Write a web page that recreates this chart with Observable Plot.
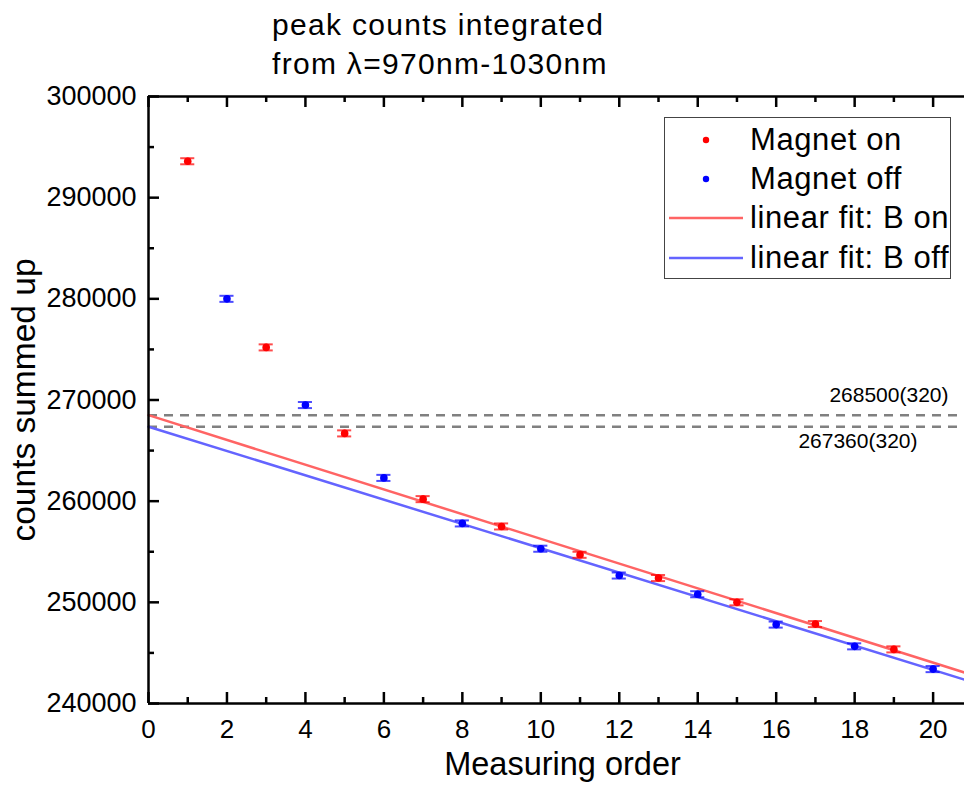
<!DOCTYPE html>
<html><head><meta charset="utf-8">
<script src="https://cdn.jsdelivr.net/npm/d3@7"></script>
<script src="https://cdn.jsdelivr.net/npm/@observablehq/plot@0.6"></script>
<style>
body{margin:0;background:#fff;font-family:"Liberation Sans",Arial,sans-serif;}
#wrap{position:relative;width:964px;height:796px;overflow:hidden;background:#fff}
#chart{position:absolute;left:0;top:0}
#title{position:absolute;left:272px;top:5px;font-size:30px;line-height:39px;letter-spacing:1.3px;color:#000;white-space:nowrap}
#legend{position:absolute;left:664px;top:117px;width:287px;height:162px;border:1.5px solid #444;box-sizing:border-box;background:#fff}
#legend .row{position:absolute;left:0;height:39px;width:100%}
#legend .txt{position:absolute;left:85px;top:0;font-size:31px;letter-spacing:0.6px;line-height:39px;white-space:nowrap;color:#000}
#legend .mk{position:absolute;left:0;top:0}
</style>
</head><body>
<div id="wrap">
  <div id="chart"></div>
  <div id="title"></div>
  <div id="legend"></div>
</div>
<script>
// ---- data ----
const titleLines = ["peak counts integrated", "from \u03bb=970nm-1030nm"];
const xLabel = "Measuring order";
const yLabel = "counts summed up";

const onX = [1, 3, 5, 7, 9, 11, 13, 15, 17, 19];
const onY = [293600, 275200, 266700, 260200, 257500, 254700, 252400, 250000, 247850, 245350];
const onErr = [300, 300, 300, 300, 300, 300, 300, 300, 300, 300];

const offX = [2, 4, 6, 8, 10, 12, 14, 16, 18, 20];
const offY = [280000, 269500, 262300, 257800, 255300, 252650, 250800, 247800, 245650, 243400];
const offErr = [300, 300, 300, 300, 300, 300, 300, 300, 300, 300];

const seriesNames = ["Magnet on", "Magnet off"];
const fitNames = ["linear fit: B on", "linear fit: B off"];
const fitIntercept = [268500, 267360];
const fitInterceptErr = [320, 320];
const fitSlope = [-1223, -1202];

const xMajor = [0, 2, 4, 6, 8, 10, 12, 14, 16, 18, 20];
const xMinor = [1, 3, 5, 7, 9, 11, 13, 15, 17, 19];
const yMajor = [240000, 250000, 260000, 270000, 280000, 290000, 300000];
const yMinor = [245000, 255000, 265000, 275000, 285000, 295000];

// ---- styling ----
const dotColor = ["#ff0000", "#0000ff"];
const fitColor = ["#ff6464", "#6464ff"];
const FONT = '"Liberation Sans", Arial, sans-serif';
const W = 964, H = 796, mL = 148, mR = 0, mT = 96, mB = 93;
const xDomain = [0, 20.8];
const frameW = W - mL - mR, frameH = H - mT - mB;

const points = [
  ...onX.map((x, i) => ({x, y: onY[i], e: onErr[i], s: 0})),
  ...offX.map((x, i) => ({x, y: offY[i], e: offErr[i], s: 1}))
];
const fitData = fitIntercept.flatMap((b, s) => xDomain.map(x => ({x, y: b + fitSlope[s] * x, s})));
const refLines = fitIntercept.map((v, i) => ({v, e: fitInterceptErr[i]}));
const capHalf = 0.18;

const plot = Plot.plot({
  width: W, height: H,
  marginLeft: mL, marginRight: mR, marginTop: mT, marginBottom: mB,
  style: {fontFamily: FONT, background: "transparent", overflow: "visible", color: "#000"},
  x: {domain: xDomain, axis: null},
  y: {domain: [240000, 300000], axis: null},
  marks: [
    Plot.ruleY(refLines, {y: "v", stroke: "#808080", strokeWidth: 2.5, strokeDasharray: "9,7"}),
    Plot.line(fitData, {x: "x", y: "y", z: "s", stroke: d => fitColor[d.s], strokeWidth: 2.5}),
    Plot.ruleX(points, {x: "x", y1: d => d.y - d.e, y2: d => d.y + d.e, stroke: d => dotColor[d.s], strokeOpacity: 0.7, strokeWidth: 1.5}),
    Plot.ruleY(points, {y: d => d.y + d.e, x1: d => d.x - capHalf, x2: d => d.x + capHalf, stroke: d => dotColor[d.s], strokeOpacity: 0.7, strokeWidth: 2}),
    Plot.ruleY(points, {y: d => d.y - d.e, x1: d => d.x - capHalf, x2: d => d.x + capHalf, stroke: d => dotColor[d.s], strokeOpacity: 0.7, strokeWidth: 2}),
    Plot.dot(points, {x: "x", y: "y", r: 3.8, fill: d => dotColor[d.s], stroke: "none"}),
    // frame
    Plot.ruleX([xDomain[0]], {stroke: "#000", strokeWidth: 2.5}),
    Plot.ruleY([240000, 300000], {stroke: "#000", strokeWidth: 2.5}),
    // inward ticks
    Plot.tickX(xMajor, {x: d => d, insetTop: frameH - 11, stroke: "#000", strokeWidth: 2.5}),
    Plot.tickX(xMinor, {x: d => d, insetTop: frameH - 6, stroke: "#000", strokeWidth: 2.5}),
    Plot.tickX(xMajor, {x: d => d, insetBottom: frameH - 11, stroke: "#000", strokeWidth: 2.5}),
    Plot.tickX(xMinor, {x: d => d, insetBottom: frameH - 6, stroke: "#000", strokeWidth: 2.5}),
    Plot.tickY(yMajor, {y: d => d, insetRight: frameW - 11, stroke: "#000", strokeWidth: 2.5}),
    Plot.tickY(yMinor, {y: d => d, insetRight: frameW - 6, stroke: "#000", strokeWidth: 2.5}),
    // tick labels
    Plot.axisX({ticks: xMajor, tickSize: 0, tickPadding: 16, fontSize: 26, tickFormat: d => String(d), label: null}),
    Plot.axisY({ticks: yMajor, tickSize: 0, tickPadding: 12, fontSize: 27, tickFormat: d3.format("d"), label: null}),
    // axis titles
    Plot.text([xLabel], {text: d => d, frameAnchor: "bottom", dx: 6, dy: 71, fontSize: 32.5, fill: "#000"}),
    Plot.text([yLabel], {text: d => d, frameAnchor: "left", textAnchor: "middle", dx: -124, dy: 0, rotate: -90, fontSize: 33.5, fill: "#000"}),
    // reference line annotations
    Plot.text([refLines[0]], {y: "v", text: d => `${d.v}(${d.e})`, frameAnchor: "right", textAnchor: "end", dx: -16, dy: -20, fontSize: 21, fill: "#000"}),
    Plot.text([refLines[1]], {y: "v", text: d => `${d.v}(${d.e})`, frameAnchor: "right", textAnchor: "end", dx: -47, dy: 15, fontSize: 21, fill: "#000"})
  ]
});
document.getElementById("chart").appendChild(plot);

// title
const t = document.getElementById("title");
titleLines.forEach(s => { const d = document.createElement("div"); d.textContent = s; t.appendChild(d); });

// legend
const lg = document.getElementById("legend");
const entries = [
  {name: seriesNames[0], kind: "dot", color: dotColor[0]},
  {name: seriesNames[1], kind: "dot", color: dotColor[1]},
  {name: fitNames[0], kind: "line", color: fitColor[0]},
  {name: fitNames[1], kind: "line", color: fitColor[1]}
];
const rowTop = [2, 41, 80, 120];
entries.forEach((e, i) => {
  const row = document.createElement("div");
  row.className = "row";
  row.style.top = rowTop[i] + "px";
  const svgNS = "http://www.w3.org/2000/svg";
  const svg = document.createElementNS(svgNS, "svg");
  svg.setAttribute("class", "mk");
  svg.setAttribute("width", "84"); svg.setAttribute("height", "39");
  if (e.kind === "dot") {
    const c = document.createElementNS(svgNS, "circle");
    c.setAttribute("cx", "41"); c.setAttribute("cy", "20"); c.setAttribute("r", "3.2");
    c.setAttribute("fill", e.color);
    svg.appendChild(c);
  } else {
    const l = document.createElementNS(svgNS, "line");
    l.setAttribute("x1", "4"); l.setAttribute("x2", "78");
    l.setAttribute("y1", "20"); l.setAttribute("y2", "20");
    l.setAttribute("stroke", e.color); l.setAttribute("stroke-width", "2.5");
    svg.appendChild(l);
  }
  row.appendChild(svg);
  const tx = document.createElement("div");
  tx.className = "txt";
  tx.textContent = e.name;
  row.appendChild(tx);
  lg.appendChild(row);
});
</script>
</body></html>
